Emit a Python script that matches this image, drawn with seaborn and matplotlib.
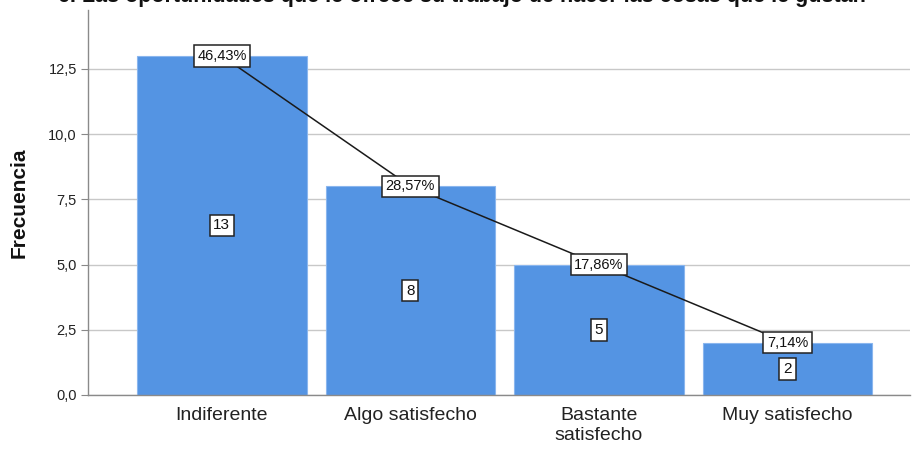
import matplotlib
matplotlib.use("Agg")
import matplotlib.pyplot as plt
import seaborn as sns

categorias = ["Indiferente", "Algo satisfecho", "Bastante\nsatisfecho", "Muy satisfecho"]
frecuencias = [13, 8, 5, 2]
porcentajes = [46.43, 28.57, 17.86, 7.14]
titulo = "6. Las oportunidades que le ofrece su trabajo de hacer las cosas que le gustan"
yticks = [0.0, 2.5, 5.0, 7.5, 10.0, 12.5]

sns.set_theme(style="white")
plt.rcParams["font.family"] = ["Liberation Sans", "DejaVu Sans"]

fig = plt.figure(figsize=(9.13, 4.5), dpi=100)
ax = fig.add_axes([88 / 913, 55 / 450, 822 / 913, 385 / 450])

sns.barplot(x=categorias, y=frecuencias, color="#5494e3", width=0.9,
            saturation=1, edgecolor="#8ab6ee", linewidth=0.8, ax=ax, zorder=2)

x = list(range(len(categorias)))
ax.plot(x, frecuencias, color="#1a1a1a", linewidth=1.1, zorder=3)

box = dict(boxstyle="square,pad=0.25", facecolor="white", edgecolor="#222222", linewidth=1.1)
for xi, f, p in zip(x, frecuencias, porcentajes):
    ax.text(xi, f, f"{p:.2f}%".replace(".", ","), ha="center", va="center",
            fontsize=10.5, color="#111111", bbox=box, zorder=5)
    ax.text(xi, f / 2, str(f), ha="center", va="center",
            fontsize=11, color="#111111", bbox=box, zorder=5)

ax.set_xlim(-0.71, 3.65)
ax.set_ylim(0, 14.76)
ax.set_yticks(yticks)
ax.set_yticklabels([f"{v:.1f}".replace(".", ",") for v in yticks], fontsize=10.5, color="#222222")
ax.set_xticks(x)
ax.set_xticklabels(categorias, fontsize=14, color="#222222", linespacing=1.2)
ax.tick_params(axis="y", which="both", left=True, length=5, width=0.8, color="#888888", pad=3)
ax.tick_params(axis="x", length=0, pad=9)

ax.grid(axis="y", color="#c8c8c8", linewidth=1.0, zorder=0)
ax.set_axisbelow(True)
for s in ["top", "right"]:
    ax.spines[s].set_visible(False)
ax.spines["left"].set_color("#8a8a8a")
ax.spines["bottom"].set_color("#8a8a8a")
ax.spines["left"].set_linewidth(1.0)
ax.spines["bottom"].set_linewidth(1.0)

ax.set_ylabel("Frecuencia", fontsize=15, fontweight="bold", color="#111111", labelpad=14)
ax.set_xlabel("")

fig.text(462 / 913, 1 - 2 / 450, titulo, ha="center", va="baseline", fontsize=15.5,
         fontweight="bold", color="#111111")

fig.savefig("out.png", dpi=100)
